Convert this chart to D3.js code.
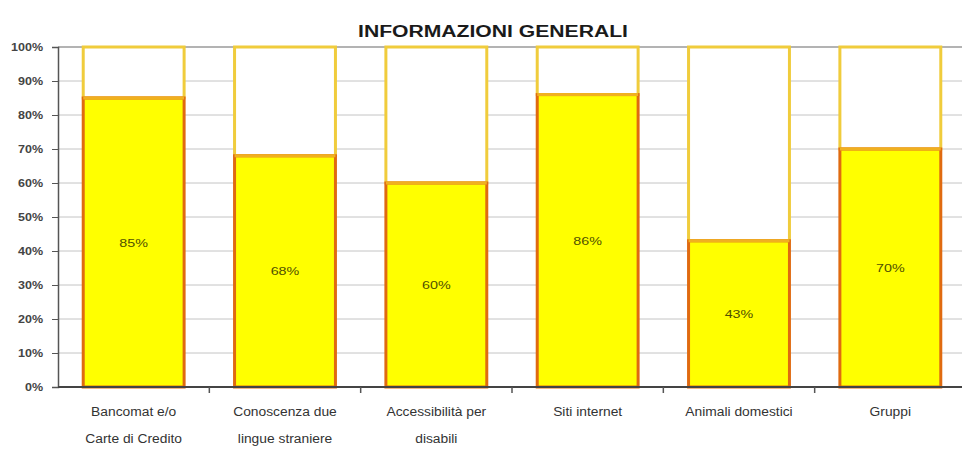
<!DOCTYPE html>
<html>
<head>
<meta charset="utf-8">
<script src="https://cdn.jsdelivr.net/npm/d3@7"></script>
<style>
  html, body { margin: 0; padding: 0; background: #fff; }
  svg { display: block; font-family: "Liberation Sans", Arial, sans-serif; }
</style>
</head>
<body>
<svg id="chart" width="962" height="460"></svg>
<script>
// Category labels (each entry is split into lines)
const categories = [
  ["Bancomat e/o", "Carte di Credito"],
  ["Conoscenza due", "lingue straniere"],
  ["Accessibilità per", "disabili"],
  ["Siti internet"],
  ["Animali domestici"],
  ["Gruppi"]
];
// Share of "yes" answers (percent)
const values = [85, 68, 60, 86, 43, 70];
const yTicks = [0, 10, 20, 30, 40, 50, 60, 70, 80, 90, 100];
const title = "INFORMAZIONI GENERALI";

const svg = d3.select("#chart");
const plotLeft = 58, plotRight = 966, plotTop = 47, plotBottom = 387;

// Widen text glyphs horizontally by a factor (the chart uses a wide typeface)
function widen(sel, factor) {
  sel.each(function () {
    const w = this.getComputedTextLength();
    d3.select(this).attr("textLength", w * factor).attr("lengthAdjust", "spacingAndGlyphs");
  });
}

const x = d3.scaleBand()
  .domain(d3.range(categories.length))
  .range([plotLeft, plotRight])
  .paddingInner(1 / 3)
  .paddingOuter(1 / 6);
const y = d3.scaleLinear().domain([0, 100]).range([plotBottom, plotTop]);

// Title
svg.append("text")
  .attr("x", 493).attr("y", 37)
  .attr("text-anchor", "middle")
  .attr("font-size", 16).attr("font-weight", "bold")
  .attr("fill", "#1a1a1a")
  .text(title)
  .call(widen, 1.32);

// Horizontal gridlines
svg.append("g").selectAll("line").data(yTicks.filter(d => d > 0)).join("line")
  .attr("x1", plotLeft).attr("x2", 962)
  .attr("y1", d => y(d)).attr("y2", d => y(d))
  .attr("stroke", d => d === 100 ? "#9a9a9a" : "#c4c4c4")
  .attr("stroke-width", d => d === 100 ? 1.5 : 1);

// Y axis
const yAxis = d3.axisLeft(y).tickValues(yTicks).tickSize(6).tickPadding(9)
  .tickFormat(d => d + "%");
const gy = svg.append("g").attr("transform", `translate(${plotLeft},0)`).call(yAxis);
gy.select(".domain").attr("stroke", "#555").attr("stroke-width", 1.5);
gy.selectAll(".tick line").attr("stroke", "#555");
gy.selectAll(".tick text").attr("font-size", 10).attr("font-weight", "bold")
  .attr("fill", "#444").attr("font-family", "'Liberation Sans', Arial, sans-serif")
  .call(widen, 1.25);

const bw = x.bandwidth();

// Remaining share (white segment up to 100%)
svg.append("g").selectAll("rect").data(values).join("rect")
  .attr("x", (d, i) => x(i)).attr("width", bw)
  .attr("y", y(100)).attr("height", d => y(d) - y(100))
  .attr("fill", "#fff").attr("stroke", "#f0cc3c").attr("stroke-width", 3);

// Value segment
svg.append("g").selectAll("rect").data(values).join("rect")
  .attr("x", (d, i) => x(i)).attr("width", bw)
  .attr("y", d => y(d)).attr("height", d => y(0) - y(d))
  .attr("fill", "#ffff00").attr("stroke", "#e06a10").attr("stroke-width", 3);

// Top edge of value segments (gold)
svg.append("g").selectAll("line").data(values).join("line")
  .attr("x1", (d, i) => x(i)).attr("x2", (d, i) => x(i) + bw)
  .attr("y1", d => y(d)).attr("y2", d => y(d))
  .attr("stroke", "#f0b020").attr("stroke-width", 3);

// Value labels
svg.append("g").selectAll("text").data(values).join("text")
  .attr("x", (d, i) => x(i) + bw / 2)
  .attr("y", d => (y(d) + y(0)) / 2 + 4)
  .attr("text-anchor", "middle")
  .attr("font-size", 11).attr("fill", "#505000")
  .text(d => d + "%")
  .call(widen, 1.3);

// X axis baseline
svg.append("line")
  .attr("x1", plotLeft).attr("x2", 962).attr("y1", plotBottom).attr("y2", plotBottom)
  .attr("stroke", "#444").attr("stroke-width", 2);

// Category separator ticks
const step = x.step();
svg.append("g").selectAll("line").data(d3.range(1, categories.length)).join("line")
  .attr("x1", d => plotLeft + d * step).attr("x2", d => plotLeft + d * step)
  .attr("y1", plotBottom).attr("y2", plotBottom + 6)
  .attr("stroke", "#555").attr("stroke-width", 1.5);

// Category labels
const lab = svg.append("g").selectAll("text").data(categories).join("text")
  .attr("text-anchor", "middle")
  .attr("font-size", 12).attr("fill", "#333");
lab.each(function(lines, i) {
  d3.select(this).selectAll("tspan").data(lines).join("tspan")
    .attr("x", x(i) + bw / 2)
    .attr("y", (d, j) => 416 + j * 27)
    .text(d => d);
});
lab.selectAll("tspan").each(function () {
  const w = this.getComputedTextLength();
  d3.select(this).attr("textLength", w * 1.15).attr("lengthAdjust", "spacingAndGlyphs");
});
</script>
</body>
</html>
